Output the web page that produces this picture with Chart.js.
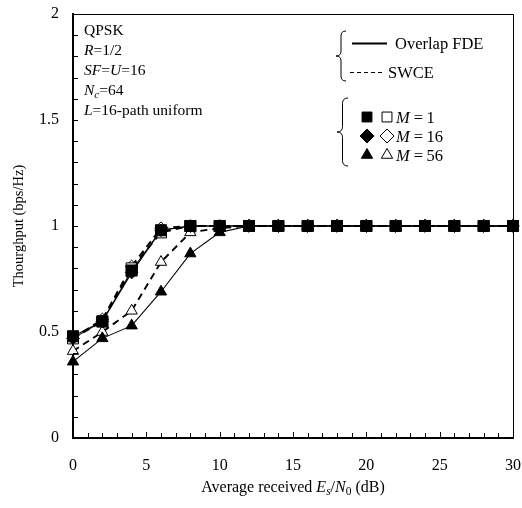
<!DOCTYPE html>
<html>
<head>
<meta charset="utf-8">
<script src="https://cdn.jsdelivr.net/npm/chart.js@4.4.1/dist/chart.umd.min.js"></script>
<style>
  html, body { margin: 0; padding: 0; background: #fff; }
  #wrap { width: 522px; height: 508px; }
</style>
</head>
<body>
<div id="wrap"><canvas id="c" width="522" height="508"></canvas></div>
<script>
// ---- data ----
const snr = [0, 2, 4, 6, 8, 10, 12, 14, 16, 18, 20, 22, 24, 26, 28, 30];
const m1Overlap  = [0.48, 0.55, 0.79, 0.98, 1.0, 1.0, 1.0, 1.0, 1.0, 1.0, 1.0, 1.0, 1.0, 1.0, 1.0, 1.0];
const m1Swce     = [0.47, 0.55, 0.80, 0.97, 1.0, 1.0, 1.0, 1.0, 1.0, 1.0, 1.0, 1.0, 1.0, 1.0, 1.0, 1.0];
const m16Overlap = [0.47, 0.55, 0.78, 0.98, 1.0, 1.0, 1.0, 1.0, 1.0, 1.0, 1.0, 1.0, 1.0, 1.0, 1.0, 1.0];
const m16Swce    = [0.47, 0.56, 0.81, 0.99, 1.0, 1.0, 1.0, 1.0, 1.0, 1.0, 1.0, 1.0, 1.0, 1.0, 1.0, 1.0];
const m56Overlap = [0.36, 0.47, 0.53, 0.69, 0.87, 0.97, 1.0, 1.0, 1.0, 1.0, 1.0, 1.0, 1.0, 1.0, 1.0, 1.0];
const m56Swce    = [0.41, 0.50, 0.60, 0.83, 0.97, 0.99, 1.0, 1.0, 1.0, 1.0, 1.0, 1.0, 1.0, 1.0, 1.0, 1.0];
const xTickLabels = ['0', '5', '10', '15', '20', '25', '30'];
const yTickLabels = ['0', '0.5', '1', '1.5', '2'];

const FONT = '"Liberation Serif", "DejaVu Serif", serif';

function pts(ys) { return snr.map((x, i) => ({ x: x, y: ys[i] })); }

function ds(label, ys, style, filled, dashed) {
  return {
    label: label,
    data: pts(ys),
    showLine: true,
    clip: false,
    borderColor: '#000',
    borderWidth: dashed ? 1.9 : 1.1,
    borderDash: dashed ? [7, 5] : [],
    pointStyle: style,
    pointRadius: style === 'rect' ? 7.8 : (style === 'rectRot' ? 6.2 : 6.5),
    pointBackgroundColor: filled ? '#000' : '#fff',
    pointBorderColor: '#000',
    pointBorderWidth: 1,
    tension: 0,
    fill: false
  };
}

// custom ticks, frame, titles, notes, legend
const decor = {
  id: 'decor',
  afterDraw(chart) {
    const ctx = chart.ctx;
    const a = chart.chartArea;
    const xs = chart.scales.x, ys = chart.scales.y;
    ctx.save();
    ctx.strokeStyle = '#000';
    ctx.fillStyle = '#000';
    // top & right frame
    ctx.lineWidth = 1;
    ctx.beginPath();
    ctx.moveTo(a.left, a.top + 0.5);
    ctx.lineTo(a.right + 0.5, a.top + 0.5);
    ctx.lineTo(a.right + 0.5, a.bottom);
    ctx.stroke();
    // inward ticks
    ctx.lineWidth = 1;
    ctx.beginPath();
    for (let v = 1; v < 30; v++) {
      const px = Math.round(xs.getPixelForValue(v)) + 0.5;
      const len = v % 5 === 0 ? 6 : 5;
      ctx.moveTo(px, a.bottom);
      ctx.lineTo(px, a.bottom - len);
    }
    for (let k = 1; k < 20; k++) {
      const py = Math.round(ys.getPixelForValue(k / 10)) + 0.5;
      ctx.moveTo(a.left, py);
      ctx.lineTo(a.left + 5, py);
    }
    ctx.stroke();

    // y axis title
    ctx.save();
    ctx.translate(19, (a.top + a.bottom) / 2);
    ctx.rotate(-Math.PI / 2);
    ctx.font = '14.5px ' + FONT;
    ctx.textAlign = 'center';
    ctx.textBaseline = 'middle';
    ctx.fillText('Thourghput (bps/Hz)', 0, 0);
    ctx.restore();

    // rich text helper
    function rich(parts, x, y, align) {
      let total = 0;
      parts.forEach(p => { ctx.font = p.f; total += ctx.measureText(p.t).width; });
      let cx = align === 'center' ? x - total / 2 : x;
      ctx.textAlign = 'left';
      ctx.textBaseline = 'alphabetic';
      parts.forEach(p => {
        ctx.font = p.f;
        ctx.fillText(p.t, cx, y + (p.dy || 0));
        cx += ctx.measureText(p.t).width;
      });
    }
    const R = '15.5px ' + FONT, I = 'italic 15.5px ' + FONT;
    const RS = '11px ' + FONT, IS = 'italic 11px ' + FONT;
    const RT = '16px ' + FONT, IT = 'italic 16px ' + FONT;
    const RTS = '11.5px ' + FONT, ITS = 'italic 11.5px ' + FONT;

    // x axis title
    rich([
      { t: 'Average received ', f: RT },
      { t: 'E', f: IT },
      { t: 's', f: ITS, dy: 3 },
      { t: '/', f: RT },
      { t: 'N', f: IT },
      { t: '0', f: RTS, dy: 3 },
      { t: ' (dB)', f: RT }
    ], (a.left + a.right) / 2, 492, 'center');

    // notes
    const nx = 84;
    rich([{ t: 'QPSK', f: R }], nx, 35);
    rich([{ t: 'R', f: I }, { t: '=1/2', f: R }], nx, 55);
    rich([{ t: 'SF', f: I }, { t: '=', f: R }, { t: 'U', f: I }, { t: '=16', f: R }], nx, 75);
    rich([{ t: 'N', f: I }, { t: 'c', f: IS, dy: 3 }, { t: '=64', f: R }], nx, 95);
    rich([{ t: 'L', f: I }, { t: '=16-path uniform', f: R }], nx, 115);

    // braces
    function brace(x, y0, y1, w) {
      const ym = (y0 + y1) / 2, h = w / 2;
      ctx.beginPath();
      ctx.moveTo(x + w, y0);
      ctx.quadraticCurveTo(x + h, y0, x + h, y0 + h);
      ctx.lineTo(x + h, ym - h);
      ctx.quadraticCurveTo(x + h, ym, x, ym);
      ctx.quadraticCurveTo(x + h, ym, x + h, ym + h);
      ctx.lineTo(x + h, y1 - h);
      ctx.quadraticCurveTo(x + h, y1, x + w, y1);
      ctx.lineWidth = 1;
      ctx.setLineDash([]);
      ctx.stroke();
    }
    brace(336, 31, 81, 10);
    brace(337, 98, 166, 11);

    // line legend
    ctx.lineWidth = 1.8;
    ctx.setLineDash([]);
    ctx.beginPath();
    ctx.moveTo(352, 43.5); ctx.lineTo(387, 43.5); ctx.stroke();
    ctx.lineWidth = 1;
    ctx.setLineDash([4, 3]);
    ctx.beginPath();
    ctx.moveTo(350, 72.5); ctx.lineTo(384, 72.5); ctx.stroke();
    ctx.setLineDash([]);
    const LF = '16.5px ' + FONT, LI = 'italic 16.5px ' + FONT;
    rich([{ t: 'Overlap FDE', f: LF }], 395, 49);
    rich([{ t: 'SWCE', f: LF }], 388, 78);

    // marker legend
    const rows = [
      { s: 'rect', y: 117, lbl: '1', r: 7 },
      { s: 'rectRot', y: 136, lbl: '16', r: 7 },
      { s: 'triangle', y: 155, lbl: '56', r: 6.5 }
    ];
    rows.forEach(r => {
      ctx.lineWidth = 1;
      ctx.fillStyle = '#000';
      Chart.helpers.drawPoint(ctx, { pointStyle: r.s, radius: r.r, rotation: 0, borderWidth: 1 }, 367, r.y);
      ctx.fillStyle = '#fff';
      Chart.helpers.drawPoint(ctx, { pointStyle: r.s, radius: r.r, rotation: 0, borderWidth: 1 }, 387, r.y);
      ctx.fillStyle = '#000';
      rich([{ t: 'M', f: LI }, { t: ' =\u2009' + r.lbl, f: LF }], 396, r.y + 6);
    });
    ctx.restore();
  }
};

// Chart.js draws dataset 0 last (on top): filled (Overlap FDE) first
new Chart(document.getElementById('c'), {
  type: 'scatter',
  data: {
    datasets: [
      ds('M=56 Overlap FDE', m56Overlap, 'triangle', true, false),
      ds('M=16 Overlap FDE', m16Overlap, 'rectRot', true, false),
      ds('M=1 Overlap FDE', m1Overlap, 'rect', true, false),
      ds('M=1 SWCE', m1Swce, 'rect', false, true),
      ds('M=16 SWCE', m16Swce, 'rectRot', false, true),
      ds('M=56 SWCE', m56Swce, 'triangle', false, true)
    ]
  },
  options: {
    responsive: false,
    animation: false,
    events: [],
    layout: { autoPadding: false, padding: { left: 0, right: 9, top: 14, bottom: 0 } },
    plugins: { legend: { display: false }, tooltip: { enabled: false } },
    scales: {
      x: {
        type: 'linear', min: 0, max: 30,
        afterFit(s) { s.height = 70; s.paddingLeft = 0; s.paddingRight = 0; },
        grid: { display: false, drawTicks: false },
        border: { display: true, color: '#000', width: 2 },
        ticks: {
          stepSize: 5, padding: 18, color: '#000', maxRotation: 0,
          font: { family: FONT, size: 16 },
          callback: (v) => xTickLabels[xTickLabels.indexOf(String(v))] ?? ''
        }
      },
      y: {
        type: 'linear', min: 0, max: 2,
        afterFit(s) { s.width = 73; s.paddingTop = 0; s.paddingBottom = 0; },
        grid: { display: false, drawTicks: false },
        border: { display: true, color: '#000', width: 2 },
        ticks: {
          stepSize: 0.5, padding: 14, color: '#000',
          font: { family: FONT, size: 16 },
          callback: (v) => yTickLabels[Math.round(v * 2)] ?? ''
        }
      }
    }
  },
  plugins: [decor]
});
</script>
</body>
</html>
